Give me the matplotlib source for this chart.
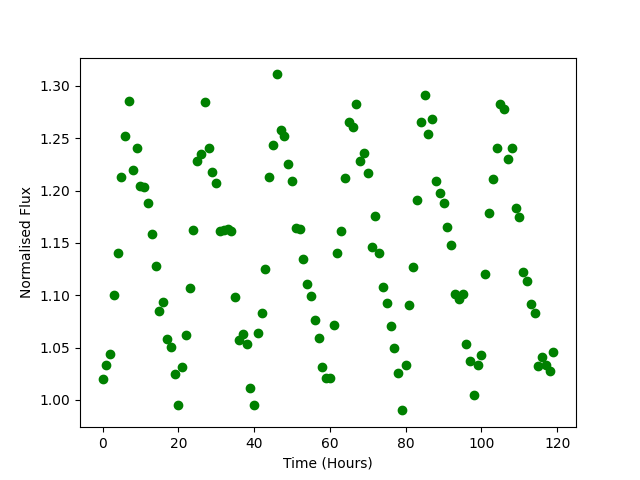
import matplotlib
matplotlib.use('Agg')
import matplotlib.pyplot as plt
import numpy as np

# time in hours, one reading per hour
time_hours = np.arange(120)

flux = [
    1.020, 1.033, 1.044, 1.100, 1.140, 1.213, 1.252, 1.286, 1.220, 1.241,
    1.204, 1.203, 1.188, 1.159, 1.128, 1.085, 1.094, 1.058, 1.051, 1.025,
    0.995, 1.031, 1.062, 1.107, 1.162, 1.228, 1.235, 1.285, 1.241, 1.218,
    1.207, 1.161, 1.162, 1.163, 1.161, 1.098, 1.057, 1.063, 1.053, 1.011,
    0.995, 1.064, 1.083, 1.125, 1.213, 1.244, 1.311, 1.258, 1.252, 1.225,
    1.209, 1.164, 1.163, 1.135, 1.111, 1.099, 1.076, 1.059, 1.031, 1.021,
    1.021, 1.072, 1.140, 1.161, 1.212, 1.266, 1.261, 1.283, 1.228, 1.236,
    1.217, 1.146, 1.176, 1.140, 1.108, 1.093, 1.071, 1.050, 1.026, 0.990,
    1.033, 1.091, 1.127, 1.191, 1.266, 1.291, 1.254, 1.268, 1.209, 1.198,
    1.188, 1.165, 1.148, 1.101, 1.096, 1.101, 1.053, 1.037, 1.005, 1.033,
    1.043, 1.120, 1.179, 1.211, 1.241, 1.283, 1.278, 1.230, 1.241, 1.183,
    1.175, 1.122, 1.114, 1.092, 1.083, 1.032, 1.041, 1.033, 1.028, 1.046,
]

fig = plt.figure(figsize=(6.4, 4.8), dpi=100)
plt.plot(time_hours, flux, 'o', color='green')
plt.xlabel('Time (Hours)')
plt.ylabel('Normalised Flux')
plt.savefig('out.png')
